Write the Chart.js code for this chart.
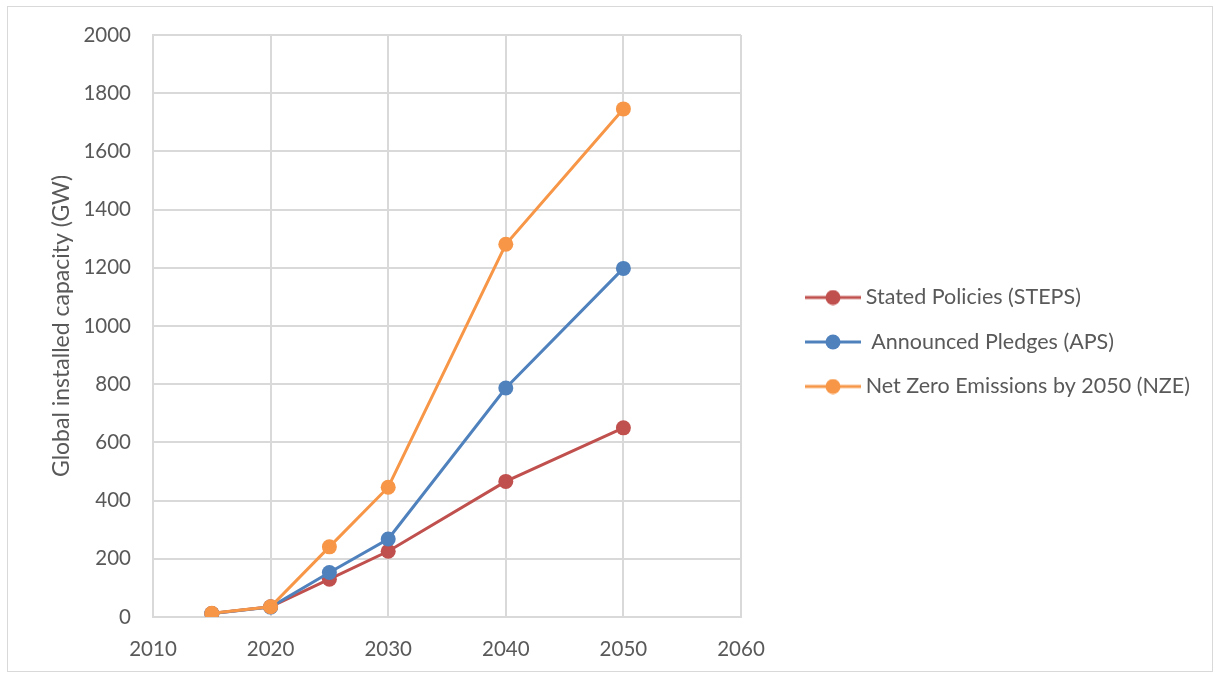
<!DOCTYPE html>
<html><head><meta charset="utf-8">
<script src="https://cdn.jsdelivr.net/npm/chart.js@4/dist/chart.umd.min.js"></script>
<style>
html,body{margin:0;padding:0;background:#fff;}
#wrap{position:absolute;left:7px;top:6px;width:1206px;height:666px;border:1px solid #d9d9d9;box-sizing:border-box;}
canvas{display:block;}
</style></head><body>
<div id="wrap"><canvas id="c" width="1204" height="664"></canvas></div>
<script>
const years = [2015, 2020, 2025, 2030, 2040, 2050];
const steps = [12, 35, 130, 226, 466, 650];
const aps = [12, 34, 153, 268, 787, 1198];
const nze = [13, 35, 241, 446, 1281, 1746];
const seriesNames = ['Stated Policies (STEPS)', ' Announced Pledges (APS)', 'Net Zero Emissions by 2050 (NZE)'];
const seriesColors = ['#C0504D', '#4F81BD', '#F79646'];
const yTicks = [0,200,400,600,800,1000,1200,1400,1600,1800,2000];
const xTicks = [2010,2020,2030,2040,2050,2060];

const FONT = 'Lato, "Open Sans", sans-serif';
function marker(color){
  const c = document.createElement('canvas');
  c.width = 58; c.height = 16;
  const g = c.getContext('2d');
  g.strokeStyle = color; g.lineWidth = 3;
  g.beginPath(); g.moveTo(1, 8); g.lineTo(57, 8); g.stroke();
  g.fillStyle = color; g.beginPath(); g.arc(29, 8, 7.5, 0, Math.PI*2); g.fill();
  return c;
}
const markers = seriesColors.map(marker);

const mk = (arr) => years.map((y,i)=>({x:y, y:arr[i]}));
const datasets = [steps, aps, nze].map((arr, i) => ({
  label: seriesNames[i], data: mk(arr), borderColor: seriesColors[i], backgroundColor: seriesColors[i],
  borderWidth: 3, pointRadius: 7.5, pointHoverRadius: 7.5, pointBorderWidth: 0, order: 3 - i
}));

const shiftLegend = {
  id: 'shiftLegend',
  afterLayout(chart){
    const lg = chart.legend;
    const dx = 47, dy = -11;
    lg.left += dx; lg.top += dy; lg.bottom += dy;
    lg.right = chart.width; lg.width = lg.right - lg.left;
  }
};

const chart = new Chart(document.getElementById('c'), {
  type: 'line',
  data: { datasets },
  plugins: [shiftLegend],
  options: {
    responsive: false, animation: false,
    layout: { padding: { top: 28, right: 171, bottom: 0, left: 0 } },
    plugins: {
      tooltip: { enabled: false },
      legend: {
        position: 'right', maxWidth: 300,
        labels: {
          usePointStyle: true, pointStyleWidth: 44,
          padding: 23, color: '#595959', font: { family: FONT, size: 21.5 },
          generateLabels(chart){
            return chart.data.datasets.map((d, i) => ({
              text: d.label, fillStyle: d.borderColor, strokeStyle: d.borderColor,
              pointStyle: markers[i], datasetIndex: i, lineWidth: 0, fontColor: '#595959'
            }));
          }
        }
      }
    },
    scales: {
      x: {
        type: 'linear', min: 2010, max: 2060,
        afterBuildTicks(s){ s.ticks = xTicks.map(v => ({value: v})); },
        afterFit(s){ s.height = 54; },
        grid: { color: '#d9d9d9', lineWidth: 2, drawTicks: false },
        border: { color: '#d9d9d9', width: 2 },
        ticks: { color: '#595959', font: { family: FONT, size: 20.5 }, padding: 20, maxRotation: 0,
          callback: v => String(v) }
      },
      y: {
        min: 0, max: 2000,
        afterBuildTicks(s){ s.ticks = yTicks.map(v => ({value: v})); },
        afterFit(s){ s.width = 145; s.paddingTop = 0; s.paddingBottom = 0; },
        grid: { color: '#d9d9d9', lineWidth: 2, drawTicks: false },
        border: { color: '#d9d9d9', width: 2 },
        ticks: { color: '#595959', font: { family: FONT, size: 20.5 }, padding: 22, callback: v => String(v) },
        title: { display: true, text: 'Global installed capacity (GW)', color: '#595959',
          font: { family: FONT, size: 23 }, padding: { top: 40, bottom: 0 } }
      }
    }
  }
});
const wantRight = 733;
for (let k = 0; k < 3; k++) {
  const diff = chart.chartArea.right - wantRight;
  if (Math.abs(diff) < 0.5) break;
  chart.options.layout.padding.right += diff;
  chart.update();
}
</script></body></html>
